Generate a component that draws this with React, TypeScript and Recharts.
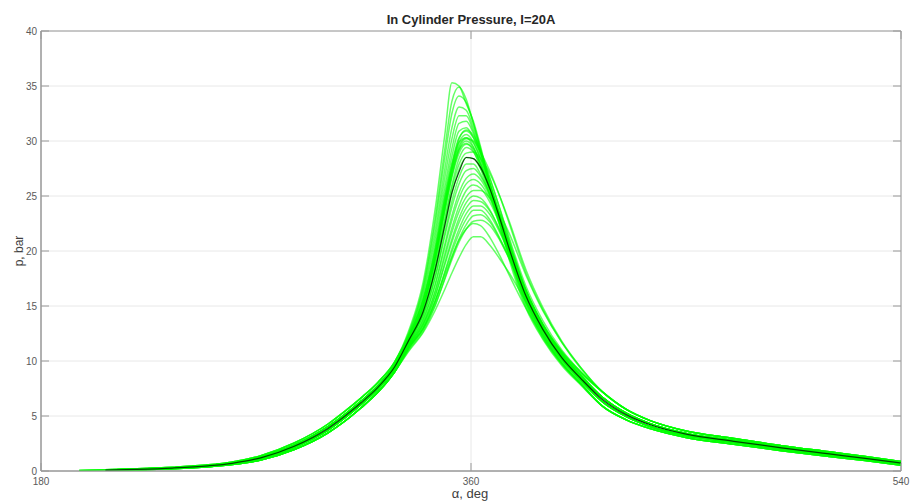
import React from 'react';
import { LineChart, Line, XAxis, YAxis, CartesianGrid, ReferenceArea } from 'recharts';

// ---------- layout constants ----------
const W = 910;
const H = 504;
const MARGIN = { top: 31, right: 9, bottom: 0, left: 11 };
const Y_AXIS_W = 30;
const X_AXIS_H = 33;
const PLOT_RIGHT = W - MARGIN.right;
const PLOT_TOP = MARGIN.top;
const TICK_LEN = 8;
const Y_TICK_MARGIN = 4;
const X_TICK_MARGIN = 6;
const AXIS = '#9a9a9a';
const GRID = '#e8e8e8';
const TICK_TEXT = '#5a5a5a';
const FONT = '"Liberation Sans", Arial, Helvetica, sans-serif';

// ---------- axis ticks ----------
const X_TICKS = [180, 360, 540];
const Y_TICKS = [0, 5, 10, 15, 20, 25, 30, 35, 40];

// ---------- sample angles (deg) ----------
const COMP_ANGLES = [196, 207, 220, 235, 250, 260, 272, 286, 300, 307, 314, 321, 328];
const PEAK_ANGLES = [334, 340, 345, 349, 352, 355, 358, 361, 364, 368, 372, 376, 383, 390, 398, 406];
const TAIL_ANGLES = [415, 425, 435, 450, 470, 490, 510, 525, 540];

// ---------- compression part variants (bar) ----------
const COMP_LOW = [null, 0.05, 0.1, 0.2, 0.38, 0.58, 1.0, 1.95, 3.45, 4.5, 5.75, 7.15, 9.0];
const COMP_MIDLOW = [null, 0.07, 0.13, 0.24, 0.44, 0.65, 1.12, 2.15, 3.7, 4.8, 6.05, 7.45, 9.3];
const COMP_MIDHIGH = [null, 0.09, 0.17, 0.3, 0.5, 0.75, 1.28, 2.35, 4.0, 5.1, 6.35, 7.75, 9.6];
const COMP_HIGH = [0.04, 0.11, 0.2, 0.34, 0.56, 0.83, 1.4, 2.55, 4.25, 5.4, 6.65, 8.05, 9.9];
const COMPS = [COMP_LOW, COMP_MIDLOW, COMP_MIDHIGH, COMP_HIGH];

// ---------- expansion tail variants (bar) ----------
const TAIL_LOW = [5.9, 4.65, 3.85, 3.05, 2.42, 1.85, 1.32, 0.95, 0.52];
const TAIL_MIDLOW = [6.3, 4.95, 4.05, 3.22, 2.6, 2.0, 1.46, 1.07, 0.63];
const TAIL_MIDHIGH = [6.7, 5.25, 4.3, 3.42, 2.78, 2.16, 1.6, 1.2, 0.76];
const TAIL_HIGH = [7.2, 5.6, 4.58, 3.64, 2.96, 2.3, 1.74, 1.32, 0.86];
const TAILS = [TAIL_LOW, TAIL_MIDLOW, TAIL_MIDHIGH, TAIL_HIGH];

// ---------- mean (black) curve ----------
const MEAN_COMP = [null, 0.08, 0.15, 0.27, 0.47, 0.7, 1.2, 2.25, 3.85, 4.95, 6.2, 7.6, 9.45];
const MEAN_PEAK = [11.9, 14.5, 18.3, 22.3, 25.3, 27.2, 28.5, 28.4, 27.6, 25.6, 23.0, 20.2, 15.9, 12.9, 10.3, 8.4];
const MEAN_TAIL = [6.5, 5.1, 4.2, 3.35, 2.7, 2.1, 1.55, 1.15, 0.72];

// ---------- individual cycles: combustion part (bar) ----------
const CYCLE_PEAKS = [
  [12.8, 17.2, 23.8, 30.5, 35.3, 35.0, 33.4, 31.8, 29.5, 25.9, 22.4, 19.2, 14.8, 12.0, 9.6, 7.8],
  [12.6, 16.8, 23.0, 29.2, 33.6, 34.9, 33.8, 31.6, 29.2, 25.9, 22.6, 19.5, 15.0, 12.1, 9.7, 7.9],
  [12.5, 16.6, 22.5, 28.4, 32.5, 34.1, 33.5, 31.6, 29.3, 26.0, 22.8, 19.7, 15.2, 12.2, 9.8, 7.9],
  [12.4, 16.3, 21.8, 27.4, 31.2, 33.1, 32.8, 31.2, 29.1, 26.0, 22.9, 19.9, 15.4, 12.4, 9.9, 8.0],
  [12.3, 16.0, 21.2, 26.6, 30.2, 32.3, 32.3, 30.9, 28.9, 25.9, 22.9, 20.0, 15.6, 12.6, 10.1, 8.2],
  [12.2, 15.7, 20.6, 25.8, 29.3, 31.6, 31.8, 30.7, 28.9, 26.1, 23.2, 20.3, 15.8, 12.8, 10.2, 8.3],
  [12.1, 15.5, 20.2, 25.2, 28.6, 30.9, 31.2, 30.3, 28.6, 26.0, 23.2, 20.4, 16.0, 12.9, 10.3, 8.4],
  [12.3, 15.6, 20.0, 24.8, 28.0, 30.3, 30.9, 30.3, 28.9, 26.5, 23.9, 21.2, 16.8, 13.7, 11.0, 9.0],
  [11.8, 14.9, 19.3, 24.0, 27.4, 29.9, 30.6, 29.9, 28.3, 25.8, 23.0, 20.2, 15.8, 12.8, 10.2, 8.3],
  [12.0, 15.2, 19.6, 24.2, 27.4, 29.6, 30.3, 29.8, 28.4, 26.1, 23.5, 20.8, 16.4, 13.3, 10.6, 8.6],
  [11.7, 14.7, 18.9, 23.5, 26.8, 29.2, 30.0, 29.4, 27.9, 25.5, 22.8, 20.0, 15.6, 12.6, 10.1, 8.2],
  [12.1, 15.0, 19.2, 23.6, 26.7, 28.9, 29.7, 29.3, 28.0, 25.8, 23.3, 20.7, 16.4, 13.3, 10.7, 8.7],
  [11.6, 14.4, 18.4, 22.8, 26.0, 28.4, 29.4, 29.0, 27.8, 25.6, 23.1, 20.5, 16.2, 13.1, 10.5, 8.5],
  [11.9, 14.6, 18.5, 22.7, 25.7, 27.9, 28.9, 29.0, 28.4, 27.0, 25.0, 22.7, 18.3, 14.9, 11.8, 9.4],
  [11.5, 14.0, 17.6, 21.6, 24.5, 26.7, 27.9, 27.9, 27.0, 25.1, 22.7, 20.2, 16.0, 12.9, 10.3, 8.4],
  [11.8, 14.2, 17.6, 21.3, 24.0, 26.1, 27.3, 27.5, 26.8, 25.1, 22.9, 20.5, 16.4, 13.4, 10.8, 8.9],
  [11.4, 13.7, 17.0, 20.6, 23.2, 25.3, 26.6, 27.0, 26.5, 24.9, 22.7, 20.3, 16.2, 13.1, 10.5, 8.6],
  [11.6, 13.8, 16.9, 20.3, 22.8, 24.8, 26.1, 26.5, 26.1, 24.7, 22.7, 20.4, 16.4, 13.3, 10.9, 9.0],
  [11.3, 13.4, 16.4, 19.7, 22.1, 24.1, 25.5, 26.0, 25.7, 24.4, 22.5, 20.2, 16.3, 13.2, 10.6, 8.6],
  [11.5, 13.5, 16.3, 19.4, 21.7, 23.6, 24.9, 25.5, 25.5, 24.8, 23.4, 21.6, 17.8, 14.6, 11.7, 9.4],
  [11.2, 13.2, 15.9, 18.9, 21.1, 23.0, 24.4, 25.0, 24.8, 23.7, 21.9, 19.8, 16.1, 13.1, 10.5, 8.6],
  [11.4, 13.3, 15.9, 18.7, 20.8, 22.6, 23.9, 24.6, 24.5, 23.6, 21.9, 19.9, 16.3, 13.3, 10.8, 9.0],
  [11.1, 12.9, 15.4, 18.1, 20.2, 22.0, 23.4, 24.1, 24.1, 23.3, 21.7, 19.8, 16.2, 13.2, 10.6, 8.7],
  [11.3, 13.0, 15.4, 18.0, 19.9, 21.6, 22.9, 23.7, 23.7, 22.8, 21.2, 19.4, 15.9, 13.0, 10.4, 8.5],
  [11.0, 12.7, 15.0, 17.5, 19.4, 21.1, 22.4, 23.2, 23.3, 22.6, 21.1, 19.3, 15.9, 13.0, 10.4, 8.5],
  [11.2, 12.9, 15.1, 17.4, 19.2, 20.8, 22.0, 22.7, 22.8, 22.3, 21.0, 19.3, 16.0, 13.1, 10.5, 8.6],
  [11.2, 13.0, 15.5, 17.8, 19.5, 21.0, 22.0, 22.5, 22.3, 21.2, 19.6, 17.8, 14.8, 12.3, 9.8, 7.9],
  [10.9, 12.6, 14.6, 16.5, 18.0, 19.4, 20.6, 21.3, 21.3, 20.5, 19.3, 18.0, 15.4, 12.8, 10.2, 8.3],
  [12.2, 15.5, 20.0, 24.7, 27.8, 29.9, 30.3, 29.5, 27.9, 25.3, 22.6, 19.9, 15.5, 12.5, 10.0, 8.1],
  [11.7, 14.3, 18.1, 22.2, 25.2, 27.4, 28.5, 28.4, 27.5, 25.5, 23.1, 20.6, 16.3, 13.2, 10.6, 8.6],
  [11.9, 15.0, 19.3, 23.9, 27.0, 29.2, 29.8, 29.1, 27.5, 25.0, 22.3, 19.6, 15.3, 12.3, 9.8, 7.9],
  [11.9, 15.1, 19.6, 24.4, 27.7, 30.2, 31.0, 30.5, 29.1, 26.6, 23.9, 21.0, 16.5, 13.4, 10.8, 8.8],
  [12.0, 15.1, 19.5, 24.1, 27.2, 29.4, 30.2, 30.0, 29.0, 27.2, 25.0, 22.5, 18.0, 14.7, 11.7, 9.3],
];
// which compression / tail variant each cycle uses
const CYCLE_COMP = [3, 3, 3, 3, 2, 2, 2, 2, 1, 2, 1, 2, 1, 2, 1, 1, 1, 1, 0, 1, 0, 1, 0, 0, 0, 0, 0, 0, 2, 1, 2, 2, 2];
const CYCLE_TAIL = [0, 0, 0, 0, 1, 1, 1, 3, 1, 2, 1, 2, 1, 3, 1, 3, 2, 3, 2, 3, 2, 3, 2, 2, 2, 2, 0, 1, 1, 2, 0, 2, 3];

type Pt = { a: number; p: number };

function buildCurve(comp: (number | null)[], peak: number[], tail: number[]): Pt[] {
  const pts: Pt[] = [];
  COMP_ANGLES.forEach((a, i) => {
    const v = comp[i];
    if (v !== null && v !== undefined) pts.push({ a, p: v });
  });
  PEAK_ANGLES.forEach((a, i) => pts.push({ a, p: peak[i] }));
  TAIL_ANGLES.forEach((a, i) => pts.push({ a, p: tail[i] }));
  return pts;
}

const CYCLES: Pt[][] = CYCLE_PEAKS.map((pk, i) => buildCurve(COMPS[CYCLE_COMP[i]], pk, TAILS[CYCLE_TAIL[i]]));
const MEAN: Pt[] = buildCurve(MEAN_COMP, MEAN_PEAK, MEAN_TAIL);

const YTick = (props: any) => {
  const { x, y, payload } = props;
  const left = x + Y_TICK_MARGIN;
  return (
    <g>
      <text x={x} y={y} dy="0.35em" textAnchor="end" fontSize={10} fill={TICK_TEXT} fontFamily={FONT}>
        {payload.value}
      </text>
      <line x1={left} x2={left + TICK_LEN} y1={y} y2={y} stroke={AXIS} strokeWidth={1} />
      <line x1={PLOT_RIGHT - TICK_LEN} x2={PLOT_RIGHT} y1={y} y2={y} stroke={AXIS} strokeWidth={1} />
    </g>
  );
};

const XTick = (props: any) => {
  const { x, y, payload } = props;
  const bottom = y - X_TICK_MARGIN;
  return (
    <g>
      <text x={x} y={y} dy="0.75em" textAnchor="middle" fontSize={10} fill={TICK_TEXT} fontFamily={FONT}>
        {payload.value}
      </text>
      <line x1={x} x2={x} y1={bottom} y2={bottom - TICK_LEN} stroke={AXIS} strokeWidth={1} />
      <line x1={x} x2={x} y1={PLOT_TOP} y2={PLOT_TOP + TICK_LEN} stroke={AXIS} strokeWidth={1} />
    </g>
  );
};

export default function App() {
  return (
    <div style={{ position: 'absolute', left: 0, top: 0, width: W, height: H, background: '#fff' }}>
      <LineChart width={W} height={H} margin={MARGIN}>
        <CartesianGrid stroke={GRID} strokeWidth={1} />
        <XAxis
          dataKey="a"
          type="number"
          domain={[180, 540]}
          ticks={X_TICKS}
          interval={0}
          allowDataOverflow
          height={X_AXIS_H}
          axisLine={{ stroke: AXIS }}
          tickLine={false}
          tickSize={0}
          tickMargin={X_TICK_MARGIN}
          tick={<XTick />}
        />
        <YAxis
          type="number"
          domain={[0, 40]}
          ticks={Y_TICKS}
          interval={0}
          allowDataOverflow
          width={Y_AXIS_W}
          axisLine={{ stroke: AXIS }}
          tickLine={false}
          tickSize={0}
          tickMargin={Y_TICK_MARGIN}
          tick={<YTick />}
        />
        <ReferenceArea x1={180} x2={540} y1={0} y2={40} fill="none" fillOpacity={0} stroke={AXIS} strokeWidth={1} ifOverflow="visible" />
        {CYCLES.map((d, i) => (
          <Line
            key={'c' + i}
            data={d}
            dataKey="p"
            type="monotone"
            stroke="#00ff00"
            strokeOpacity={0.6}
            strokeWidth={1.5}
            dot={false}
            activeDot={false}
            isAnimationActive={false}
          />
        ))}
        <Line
          data={MEAN}
          dataKey="p"
          type="monotone"
          stroke="#002200"
          strokeOpacity={0.85}
          strokeWidth={1.2}
          dot={false}
          activeDot={false}
          isAnimationActive={false}
        />
      </LineChart>
      <svg width={W} height={H} style={{ position: 'absolute', left: 0, top: 0, pointerEvents: 'none' }}>
        <text x={471} y={24} textAnchor="middle" fontSize={13} fontWeight="bold" fill="#262626" fontFamily={FONT}>
          In Cylinder Pressure, I=20A
        </text>
        <text
          x={0}
          y={0}
          transform="translate(23,251) rotate(-90)"
          textAnchor="middle"
          fontSize={12}
          fill="#404040"
          fontFamily={FONT}
        >
          p, bar
        </text>
        <text x={470} y={498} textAnchor="middle" fontSize={13} fill="#404040" fontFamily={FONT}>
          α, deg
        </text>
      </svg>
    </div>
  );
}
